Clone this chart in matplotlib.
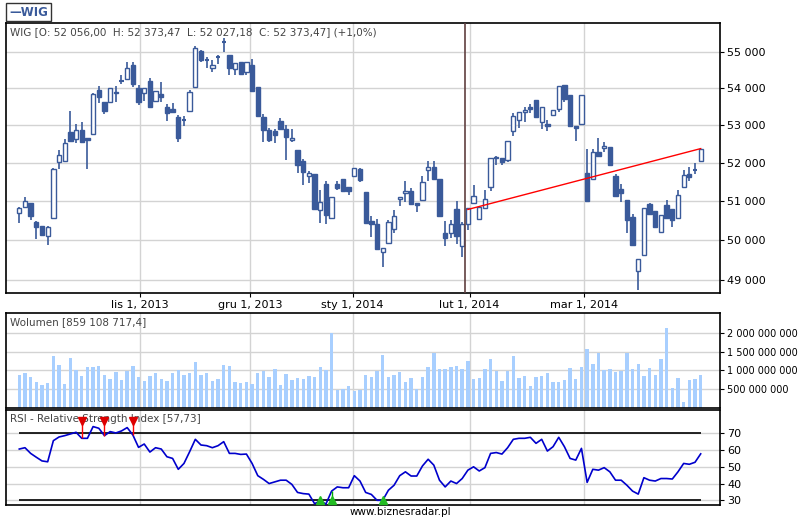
import matplotlib
matplotlib.use("Agg")
import matplotlib.pyplot as plt
import numpy as np

opens = [50690,50850,50950,50470,50370,50100,50580,52020,52040,52820,52630,52880,52650,52760,53970,53640,53630,53900,54190,54250,
54650,54000,53880,54200,53670,53850,53500,53440,53220,53150,53380,54050,55040,54790,54560,54850,55290,54930,54530,54720,
54440,54650,54030,53220,52870,52860,53130,52910,52610,52340,52060,51670,51710,50770,51440,50580,51440,51570,51360,51670,
51830,51230,50490,50410,49700,49940,50280,51050,51220,51280,50950,51030,51820,51900,51580,50200,50200,50800,49870,50410,
50950,50540,50830,51360,52170,52130,52080,52840,53140,53370,53490,53680,53090,53040,53280,53440,54090,53820,52990,53030,
51740,51580,52300,52400,52430,51650,51330,51030,50590,49230,49640,50930,50760,50220,50900,50810,50580,51360,51700,51820,52056]
closes = [50820,51000,50610,50350,50150,50330,51830,52220,52520,52590,52880,52560,52610,53860,53770,53380,54000,53880,54200,54560,
54110,53620,54000,53490,53930,53780,53330,53350,52660,53160,53900,55130,54770,54800,54650,54860,55300,54550,54700,54410,
54720,53940,53260,52870,52600,52740,52900,52700,52660,51950,51760,51740,50810,50970,50650,51100,51350,51270,51280,51870,
51560,50450,50430,49780,49800,50460,50610,51100,51280,50920,50900,51500,51900,51580,50630,50050,50430,50120,50430,50830,
51130,50860,51070,52130,52130,52020,52590,53240,53360,53420,53440,53220,53490,52980,53420,54060,53700,52990,52920,53810,
51020,52280,52190,52450,51940,51150,51220,50530,49890,49520,50820,50670,50350,50640,50560,50510,51160,51690,51630,51810,52373]
highs = [50850,51120,50950,50490,50370,50370,51860,52330,52640,53380,53040,53100,52650,53880,54060,53640,54000,54060,54360,54720,
54730,54090,54000,54280,53930,54170,53580,53600,53290,53260,53970,55170,55060,54860,54790,54930,55400,54930,54700,54720,
54720,54810,54030,53310,52930,52910,53200,53020,52910,52340,52100,51800,51710,51290,51520,51100,51530,51570,51360,51870,
51860,51230,50620,50540,49800,50520,50780,51120,51540,51340,50960,51650,52060,52060,51580,50500,50520,51000,50480,50830,
51420,50860,51290,52130,52190,52130,52590,53330,53360,53490,53580,53680,53490,53150,53420,54060,54090,53820,52990,53810,
52380,52380,52670,52550,52430,51710,51460,51030,50680,49520,50820,50960,50760,50640,51030,50810,51290,51820,51890,52000,52373]
lows = [50450,50850,50520,50040,50100,49890,50580,51840,52020,52590,52540,52560,51840,52760,53610,53300,53630,53630,54120,54230,
54030,53560,53660,53470,53620,53620,53110,53350,52550,52970,53380,54050,54740,54560,54440,54670,55020,54360,54360,54410,
54360,53940,53260,52550,52550,52520,52900,52080,52550,51740,51430,51470,50810,50440,50430,50580,51290,51270,51170,51670,
51500,50450,50080,49780,49340,49930,50180,50890,50970,50920,50730,51030,51530,51580,50630,49860,50070,49920,49590,50260,
50950,50520,50790,51280,51950,51950,52020,52720,52940,53090,53330,53220,52910,52850,53240,53350,53640,52970,52580,53030,
51020,51580,52190,52280,51940,51150,50990,50180,49890,48770,49640,50670,50350,50200,50560,50330,50580,51360,51530,51700,52027]
volume_m = [877,930,825,693,614,667,1377,1140,640,1325,1009,851,1088,1088,1114,877,772,956,746,991,
1114,825,719,851,930,772,719,930,1009,877,930,1219,877,930,719,772,1140,1114,693,667,
693,640,930,982,825,1035,614,904,746,798,772,851,825,1088,1009,1982,482,500,588,456,
482,877,825,982,1404,825,877,960,700,800,500,830,1080,1460,1030,1030,1080,1110,1030,1240,
770,800,1030,1290,980,720,980,1380,800,850,590,830,850,930,700,700,750,1060,770,1080,
1560,1160,1460,1000,1040,960,980,1460,1040,1160,860,1060,880,1300,2120,540,800,160,750,770,880]
rsi = [60.6,61.4,58,55.7,53.5,53,65.6,67.8,68.6,69.6,70.6,67,67,74,73,68.6,71,70.2,71.4,73.4,
69,61.6,63.6,58.8,61.4,60.6,56,55,48.5,52,59,66.4,63,62.6,61.4,62.6,65,58,58,57.4,
57.6,52,44.7,42.5,40,41,42,42,39.5,34.7,34,33.7,28,29.6,27.8,35.5,38,37.5,37.5,44.7,
41.5,34.7,33.5,30,30,36,39,44.7,47,44.5,44.5,50.5,54.5,51,42,38,41.5,40,43,48,
50,47.5,49.5,58,58.5,57.6,61.4,66.4,67,67,67.6,64,66.4,59.4,62,67.6,62,55,54,61,
40.7,48.5,48,49.5,47,42,42,39,35.5,33.7,43.5,42,41.5,43,43,42.7,47,52,51.5,52.7,57.73]
tick_pos = [21.2, 40.6, 58.7, 79.3, 99.4]
tick_labels = ["lis 1, 2013", "gru 1, 2013", "sty 1, 2014", "lut 1, 2014", "mar 1, 2014"]
price_ticks = [49000, 50000, 51000, 52000, 53000, 54000, 55000]
vol_ticks = [500, 1000, 1500, 2000]
vol_labels = ["500 000 000", "1 000 000 000", "1 500 000 000", "2 000 000 000"]
rsi_ticks = [30, 40, 50, 60, 70]
sell_sig = [11, 15, 20]
buy_sig = [53, 55, 64]
trend_idx = [79, 120]
trend_val = [50790, 52380]

W, H = 800, 520
fig = plt.figure(figsize=(8, 5.2), dpi=100)
plt.rcParams["font.family"] = "DejaVu Sans"
BLUE = "#3a5a9a"
GRID = "#d3d3d3"
n = len(opens)
x = np.arange(n)
xl = (-2.34, 123.4)

def ax_at(x0, y0, x1, y1):
    return fig.add_axes([x0 / W, 1 - y1 / H, (x1 - x0) / W, (y1 - y0) / H])

def style(ax, fs=8):
    for s in ax.spines.values():
        s.set_color("black"); s.set_linewidth(1.2)
    ax.set_xlim(*xl)
    ax.yaxis.tick_right()
    ax.tick_params(axis="y", labelsize=fs, length=3, pad=2, colors="black")
    ax.set_xticks(tick_pos)
    ax.grid(True, color=GRID, linewidth=1)
    ax.set_axisbelow(True)

# price
ax = ax_at(6, 23, 720, 293)
style(ax)
ax.set_yscale("log")
ax.set_ylim(48686, 55820)
ax.set_yticks(price_ticks)
ax.set_yticklabels([f"{v:,}".replace(",", " ") for v in price_ticks])
ax.yaxis.set_minor_locator(matplotlib.ticker.NullLocator())
ax.set_xticklabels(tick_labels, fontsize=8)
ax.tick_params(axis="x", length=3, pad=2)
for i in range(n):
    o, c, h, l = opens[i], closes[i], highs[i], lows[i]
    ax.vlines(x[i], l, h, color=BLUE, lw=1.2, zorder=2)
    lo, hi = min(o, c), max(o, c)
    if hi - lo < 15:
        ax.hlines((o + c) / 2, x[i] - 0.38, x[i] + 0.38, color=BLUE, lw=1.5, zorder=3)
    else:
        fc = "white" if c > o else BLUE
        ax.add_patch(plt.Rectangle((x[i] - 0.38, lo), 0.76, hi - lo, facecolor=fc,
                                   edgecolor=BLUE, lw=1.0, zorder=3))
ax.plot(trend_idx, trend_val, color="red", lw=1, zorder=4)
ax.axvline(78.5, color="#604040", lw=1.2, zorder=4)
ax.text(0.006, 0.985, "WIG [O: 52 056,00  H: 52 373,47  L: 52 027,18  C: 52 373,47] (+1,0%)",
        transform=ax.transAxes, ha="left", va="top", fontsize=7.5, color="#444444")

# volume
av = ax_at(6, 313, 720, 408)
style(av, fs=7)
av.set_ylim(0, 2523)
av.bar(x, volume_m, width=0.6, color="#a8cfff", zorder=2)
av.set_yticks(vol_ticks)
av.set_yticklabels(vol_labels)
av.set_xticklabels([])
av.tick_params(axis="x", length=0)
av.text(0.006, 0.96, "Wolumen [859 108 717,4]", transform=av.transAxes, ha="left", va="top",
        fontsize=7.5, color="#444444")

# rsi
ar = ax_at(6, 410, 720, 505)
style(ar)
ar.set_ylim(27.2, 83.9)
ar.set_yticks(rsi_ticks)
ar.set_xticklabels([])
ar.tick_params(axis="x", length=0)
ar.hlines([30, 70], 0, 120, color="black", lw=1.2, zorder=2)
ar.plot(x, rsi, color="#0000cc", lw=1.2, zorder=3)
for i in sell_sig:
    ar.vlines(i, rsi[i], 77, color="red", lw=1, zorder=4)
    ar.plot(i, 77.5, marker="v", color="#dd0000", markersize=6, zorder=5)
for i in buy_sig:
    ar.vlines(i, 30, rsi[i], color="#00aa00", lw=1, zorder=4)
    ar.plot(i, 30.3, marker="^", color="#22bb22", markersize=6, zorder=5)
ar.text(0.006, 0.96, "RSI - Relative Strength Index [57,73]", transform=ar.transAxes, ha="left",
        va="top", fontsize=7.5, color="#444444")

# legend box
fig.text(9 / W, 1 - 12 / H, "—WIG", fontsize=8.5, fontweight="bold", color=BLUE, va="center",
         bbox=dict(boxstyle="square,pad=0.25", fc="white", ec="#333333", lw=1))
fig.text(400 / W, 1 - 512 / H, "www.biznesradar.pl", fontsize=7.5, ha="center", va="center")

fig.savefig("out.png", dpi=100)
